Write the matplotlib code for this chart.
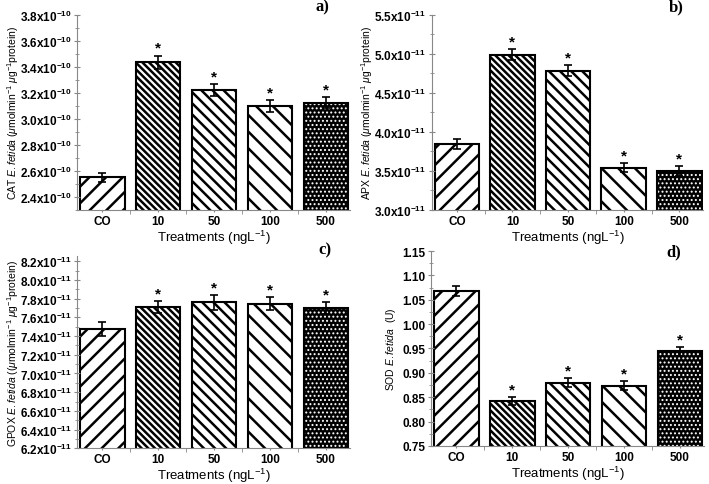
import numpy as np
import matplotlib
matplotlib.use("Agg")
import matplotlib.pyplot as plt
from matplotlib.ticker import FixedLocator, MultipleLocator

plt.rcParams['font.family'] = ['Liberation Sans', 'DejaVu Sans']
plt.rcParams['mathtext.fontset'] = 'custom'
plt.rcParams['mathtext.rm'] = 'Liberation Sans'
plt.rcParams['mathtext.it'] = 'Liberation Sans:italic'
plt.rcParams['mathtext.bf'] = 'Liberation Sans:bold'
plt.rcParams['hatch.linewidth'] = 1.8

categories = ['CO', '10', '50', '100', '500']

# values (a: x1e-10, b/c: x1e-11)
cat_vals = [2.55, 3.435, 3.22, 3.10, 3.125]
cat_err = [0.035, 0.05, 0.045, 0.045, 0.04]
apx_vals = [3.845, 4.985, 4.785, 3.54, 3.50]
apx_err = [0.06, 0.07, 0.068, 0.06, 0.06]
gpox_vals = [7.475, 7.71, 7.76, 7.745, 7.70]
gpox_err = [0.075, 0.065, 0.08, 0.07, 0.065]
sod_vals = [1.068, 0.842, 0.880, 0.874, 0.944]
sod_err = [0.011, 0.008, 0.0095, 0.0095, 0.009]
signif = [False, True, True, True, True]

hatches = ['//', '\\' * 5, '\\' * 3, '\\\\', None]

# y tick labels
a_ticks = [2.4, 2.6, 2.8, 3.0, 3.2, 3.4, 3.6, 3.8]
b_ticks = [3.0, 3.5, 4.0, 4.5, 5.0, 5.5]
c_ticks = [6.2, 6.4, 6.6, 6.8, 7.0, 7.2, 7.4, 7.6, 7.8, 8.0, 8.2]
d_ticks = [0.75, 0.80, 0.85, 0.90, 0.95, 1.00, 1.05, 1.10, 1.15]

panels = [
    dict(pos=[0.1086, 0.565, 0.385, 0.4026], vals=cat_vals, err=cat_err, ylim=(2.30, 3.80),
         ticks=a_ticks, exp=-10, fmt='%.1f', letter='a)', lpos=(0.90, 1.045), ylx=-0.235,
         ylabel='CAT $\\it{E. fetida}$ ($\\mu$molmin$^{-1}$ $\\mu$g$^{-1}$protein)'),
    dict(pos=[0.609, 0.565, 0.383, 0.4026], vals=apx_vals, err=apx_err, ylim=(3.0, 5.5),
         ticks=b_ticks, exp=-11, fmt='%.1f', letter='b)', lpos=(0.90, 1.045), ylx=-0.238,
         ylabel='APX $\\it{E. fetida}$ ($\\mu$molmin$^{-1}$ $\\mu$g$^{-1}$protein)'),
    dict(pos=[0.1086, 0.0736, 0.385, 0.3964], vals=gpox_vals, err=gpox_err, ylim=(6.2, 8.255),
         ticks=c_ticks, exp=-11, fmt='%.1f', letter='c)', lpos=(0.91, 1.035), ylx=-0.235,
         ylabel='GPOX $\\it{E. fetida}$ (($\\mu$molmin$^{-1}$ $\\mu$g$^{-1}$protein)'),
    dict(pos=[0.608, 0.0784, 0.385, 0.402], vals=sod_vals, err=sod_err, ylim=(0.75, 1.15),
         ticks=d_ticks, exp=None, fmt='%.2f', letter='d)', lpos=(0.89, 1.0), ylx=-0.145,
         ylabel='SOD $\\it{E. fetida}$  (U)'),
]

fig = plt.figure(figsize=(7.09, 4.85), dpi=100)
x = np.arange(len(categories))

for p in panels:
    ax = fig.add_axes(p['pos'])
    vals, err = p['vals'], p['err']
    for i in range(len(categories)):
        if hatches[i] is None:
            with plt.rc_context({'hatch.linewidth': 0.9}):
                dots = ax.bar(x[i], vals[i], 0.8, color='black', edgecolor='white', hatch='....', linewidth=0)
                for b in dots:
                    if hasattr(b, 'set_hatch_linewidth'):
                        b.set_hatch_linewidth(0.9)
            ax.bar(x[i], vals[i], 0.8, fill=False, edgecolor='black', linewidth=1.5)
        else:
            ax.bar(x[i], vals[i], 0.8, color='white', edgecolor='black', hatch=hatches[i], linewidth=1.5)
    ax.errorbar(x, vals, yerr=err, fmt='none', ecolor='black', elinewidth=1.2, capsize=3, capthick=1.2)
    rng = p['ylim'][1] - p['ylim'][0]
    for i in range(len(categories)):
        if signif[i]:
            ax.text(x[i], vals[i] + err[i] + rng * 0.004, '*', ha='center', va='bottom',
                    fontsize=11, fontweight='bold')
    ax.set_xlim(-0.45, 4.43)
    ax.set_ylim(*p['ylim'])
    for s in ['top', 'right']:
        ax.spines[s].set_visible(False)
    ax.spines['left'].set_color('#888888')
    ax.spines['bottom'].set_color('#888888')
    ax.set_xticks(x)
    ax.set_xticklabels(categories, fontsize=8.5, fontweight='bold')
    ax.xaxis.set_minor_locator(FixedLocator(np.arange(-0.5, 5, 1.0)))
    ax.tick_params(axis='x', which='major', length=1.5, color='#888888', pad=2)
    ax.tick_params(axis='x', which='minor', length=3, color='#888888')
    ax.set_yticks(p['ticks'])
    if p['exp'] is None:
        labels = [p['fmt'] % t for t in p['ticks']]
    else:
        labels = [(p['fmt'] % t) + 'x10$^{\\mathbf{%d}}$' % p['exp'] for t in p['ticks']]
    ax.set_yticklabels(labels, fontsize=8.5, fontweight='bold')
    step = p['ticks'][1] - p['ticks'][0]
    ax.yaxis.set_minor_locator(MultipleLocator(step / 2))
    ax.tick_params(axis='y', which='major', direction='inout', length=4, color='#888888', pad=2)
    ax.tick_params(axis='y', which='minor', direction='inout', length=2.5, color='#888888')
    ax.set_xlabel('Treatments (ngL$^{-1}$)', fontsize=9.5)
    ax.xaxis.set_label_coords(0.5, -0.136)
    ax.xaxis.label.set_va('center')
    ax.set_ylabel(p['ylabel'], fontsize=7.5)
    ax.yaxis.set_label_coords(p['ylx'], 0.5)
    ax.yaxis.label.set_va('center')
    ax.text(p['lpos'][0], p['lpos'][1], p['letter'], transform=ax.transAxes, ha='center', va='center',
            fontsize=12, fontweight='bold', family='Liberation Serif')

fig.savefig('out.png', dpi=100)
